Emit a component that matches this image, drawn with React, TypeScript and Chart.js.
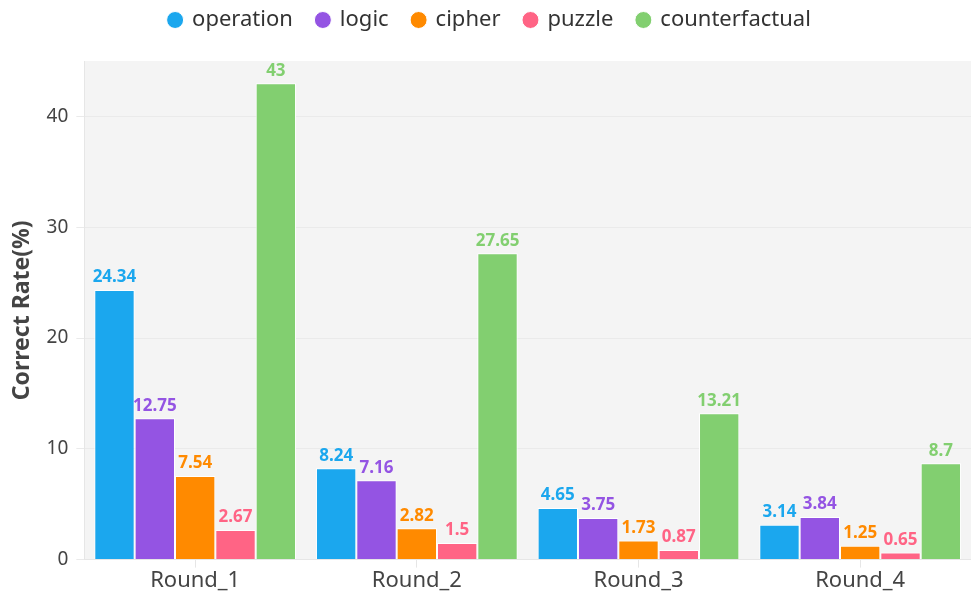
import React, { useEffect, useRef } from "react";
import { Chart, registerables } from "chart.js";

Chart.register(...registerables);

const categories = ["Round_1", "Round_2", "Round_3", "Round_4"];
const seriesNames = ["operation", "logic", "cipher", "puzzle", "counterfactual"];
const operation = [24.34, 8.24, 4.65, 3.14];
const logic = [12.75, 7.16, 3.75, 3.84];
const cipher = [7.54, 2.82, 1.73, 1.25];
const puzzle = [2.67, 1.5, 0.87, 0.65];
const counterfactual = [43, 27.65, 13.21, 8.7];
const seriesColors = ["#1ba7ee", "#9454e3", "#ff8a00", "#ff6485", "#82cf70"];
const yTicks = [0, 10, 20, 30, 40];

const FONT = "'Noto Sans', 'Open Sans', sans-serif";

const bgPlugin = {
  id: "plotBg",
  beforeDraw(chart: any) {
    const { ctx, chartArea } = chart;
    ctx.save();
    ctx.fillStyle = "#f4f4f4";
    ctx.fillRect(chartArea.left, chartArea.top, chartArea.right - chartArea.left, chartArea.bottom - chartArea.top);
    ctx.restore();
  },
};

const legendMargin = {
  id: "legendMargin",
  beforeInit(chart: any) {
    const legend = chart.legend;
    if (!legend) return;
    const orig = legend.fit;
    legend.fit = function () {
      orig.call(this);
      this.height += 20;
    };
  },
};

const labelPlugin = {
  id: "barLabels",
  afterDatasetsDraw(chart: any) {
    const { ctx } = chart;
    ctx.save();
    ctx.font = `bold 17px ${FONT}`;
    ctx.textAlign = "center";
    ctx.textBaseline = "bottom";
    chart.data.datasets.forEach((ds: any, i: number) => {
      const meta = chart.getDatasetMeta(i);
      ctx.fillStyle = ds.backgroundColor;
      meta.data.forEach((bar: any, j: number) => {
        ctx.fillText(String(ds.data[j]), bar.x, bar.y - 4);
      });
    });
    ctx.restore();
  },
};

export default function App() {
  const ref = useRef<HTMLCanvasElement>(null);
  useEffect(() => {
    document.body.style.margin = "0";
    const values = [operation, logic, cipher, puzzle, counterfactual];
    const chart = new Chart(ref.current!, {
      type: "bar",
      data: {
        labels: categories,
        datasets: seriesNames.map((name, i) => ({
          label: name,
          data: values[i],
          backgroundColor: seriesColors[i],
          borderColor: "#ffffff",
          borderWidth: 1,
          barPercentage: 1,
          categoryPercentage: 0.91,
        })),
      },
      options: {
        responsive: false,
        animation: false,
        layout: { padding: { top: -15, left: 9, right: 0, bottom: 0 } },
        plugins: {
          legend: {
            position: "top",
            labels: {
              usePointStyle: true,
              pointStyle: "circle",
              boxWidth: 12,
              boxHeight: 12,
              padding: 24,
              color: "#333",
              font: { family: FONT, size: 22 },
            },
          },
          tooltip: { enabled: false },
        },
        scales: {
          x: {
            grid: { display: true, drawOnChartArea: false, drawTicks: true, offset: false, tickLength: 8, color: "#e6e6e6" },
            border: { color: "#e6e6e6" },
            ticks: { color: "#444", font: { family: FONT, size: 22 }, padding: 0 },
          },
          y: {
            min: 0,
            max: 45,
            afterBuildTicks(axis: any) {
              axis.ticks = yTicks.map((v) => ({ value: v }));
            },
            grid: { color: "#eaeaea", tickLength: 8 },
            border: { color: "#e6e6e6" },
            ticks: { color: "#444", font: { family: FONT, size: 19 }, padding: 8 },
            title: {
              display: true,
              text: "Correct Rate(%)",
              color: "#444",
              font: { family: FONT, size: 23, weight: "bold" },
              padding: { top: 0, bottom: 2 },
            },
          },
        },
      },
      plugins: [bgPlugin, legendMargin, labelPlugin],
    });
    return () => chart.destroy();
  }, []);
  return <canvas ref={ref} width={971} height={594} style={{ display: "block" }} />;
}
